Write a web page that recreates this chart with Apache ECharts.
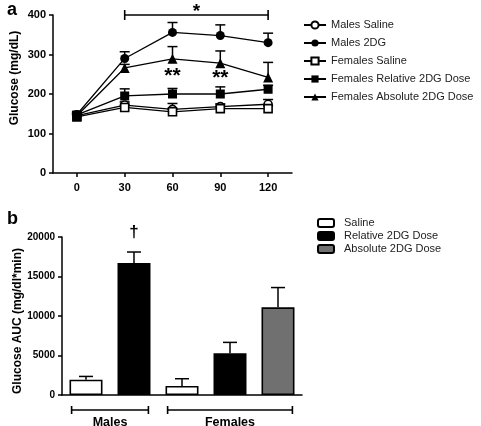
<!DOCTYPE html>
<html>
<head>
<meta charset="utf-8">
<script src="https://cdn.jsdelivr.net/npm/echarts@6/dist/echarts.min.js"></script>
<style>html,body{margin:0;padding:0;background:#fff;}#c{width:481px;height:426px;}</style>
</head>
<body>
<div id="c"></div>
<script>
// ---- Panel a: glucose time course ----
const times = ['0', '30', '60', '90', '120'];
const glucoseTicks = [0, 100, 200, 300, 400];
const malesSaline = [145, 172, 161, 168, 174];
const malesSalineErr = [150, 180, 176, 175, 186];
const males2DG = [148, 290, 356, 348, 330];
const males2DGErr = [155, 307, 381, 375, 354];
const femalesSaline = [142, 166, 155, 163, 163];
const femalesSalineErr = [147, 172, 162, 168, 170];
const femalesRelative = [147, 195, 200, 200, 212];
const femalesRelativeErr = [152, 213, 214, 218, 222];
const femalesAbsolute = [145, 266, 289, 278, 242];
const femalesAbsoluteErr = [150, 275, 320, 309, 280];
const bracketSpan = [1, 4, 400];      // from t=30 to t=120 at 400 mg/dL
const bracketLabel = '*';
const doubleStarPoints = [[2, 256], [3, 250]];
const doubleStarLabel = '**';

// ---- Panel b: AUC ----
const aucSlots = ['Males Saline', 'Males Relative', 'Females Saline', 'Females Relative', 'Females Absolute'];
const aucTicks = [0, 5000, 10000, 15000, 20000];
const salineAUC = [1940, '-', 1150, '-', '-'];
const relativeAUC = ['-', 16700, '-', 5300, '-'];
const absoluteAUC = ['-', '-', '-', '-', 11100];
const aucMean = [1940, 16700, 1150, 5300, 11100];
const aucErr = [2350, 18100, 2060, 6660, 13600];
const aucNotes = ['', '\u2020', '', '', ''];
const groupLabels = ['Males', 'Females'];
const groupSpans = [[0, 1], [2, 4]];

const FONT = '"Liberation Sans", Arial, sans-serif';
const chart = echarts.init(document.getElementById('c'), null, {renderer: 'canvas'});

function errSeries(name, mean, hi, xIdx, yIdx, capHalf, notes) {
  return {
    type: 'custom', name: name, xAxisIndex: xIdx, yAxisIndex: yIdx, z: 1, silent: true,
    clip: false,
    data: mean.map((m, i) => [i, m, hi[i]]),
    renderItem: function (params, api) {
      const x = api.value(0);
      const p1 = api.coord([x, api.value(1)]);
      const p2 = api.coord([x, api.value(2)]);
      const st = {stroke: '#000', lineWidth: 1.5};
      const children = [
        {type: 'line', shape: {x1: p1[0], y1: p1[1], x2: p2[0], y2: p2[1]}, style: st},
        {type: 'line', shape: {x1: p2[0] - capHalf, y1: p2[1], x2: p2[0] + capHalf, y2: p2[1]}, style: st}
      ];
      if (notes && notes[params.dataIndex]) {
        children.push({type: 'text', x: p2[0], y: p2[1] - 11,
          style: {text: notes[params.dataIndex], fill: '#000', font: 'bold 17px ' + FONT,
            align: 'center', verticalAlign: 'bottom'}});
      }
      return {type: 'group', children: children};
    }
  };
}

function lineSeries(name, data, symbol, size, filled) {
  return {
    type: 'line', name: name, data: data, xAxisIndex: 0, yAxisIndex: 0, z: 3,
    symbol: symbol, symbolSize: size, showAllSymbol: true,
    lineStyle: {color: '#000', width: 1.3},
    itemStyle: {color: filled ? '#000' : '#fff', borderColor: '#000', borderWidth: filled ? 0 : 1.6},
    emphasis: {disabled: true},
    animation: false
  };
}

const tickFont = {color: '#000', fontWeight: 'bold', fontSize: 11, fontFamily: FONT};
const axisLineStyle = {show: true, lineStyle: {color: '#000', width: 1.5}};

const option = {
  animation: false,
  backgroundColor: '#fff',
  title: [
    {text: 'a', left: 2, top: -4, textStyle: {fontSize: 18, fontWeight: 'bold', color: '#000', fontFamily: FONT}},
    {text: 'b', left: 2, top: 205, textStyle: {fontSize: 18, fontWeight: 'bold', color: '#000', fontFamily: FONT}}
  ],
  legend: [
    {
      data: ['Males Saline', 'Males 2DG', 'Females Saline', 'Females Relative 2DG Dose', 'Females Absolute 2DG Dose'],
      orient: 'vertical', left: 303, top: 18, padding: 0, itemWidth: 22, itemHeight: 9, itemGap: 4,
      textStyle: {fontSize: 11, lineHeight: 14, color: '#222', fontFamily: FONT},
      selectedMode: false
    },
    {
      data: ['Saline', 'Relative 2DG Dose', 'Absolute 2DG Dose'],
      orient: 'vertical', left: 317, top: 217, padding: 0, itemWidth: 16, itemHeight: 8, itemGap: 1,
      textStyle: {fontSize: 11, lineHeight: 12, color: '#222', padding: [0, 0, 0, 5], fontFamily: FONT},
      selectedMode: false
    }
  ],
  grid: [
    {left: 53, top: 15, width: 239, height: 158},
    {left: 62, top: 237, width: 240, height: 158}
  ],
  xAxis: [
    {
      type: 'category', gridIndex: 0, data: times, boundaryGap: true,
      axisLine: axisLineStyle, axisTick: {show: true, alignWithLabel: true, length: 4, lineStyle: {color: '#000', width: 1.5}},
      axisLabel: Object.assign({margin: 9}, tickFont), splitLine: {show: false}
    },
    {
      type: 'category', gridIndex: 1, data: aucSlots, boundaryGap: true,
      axisLine: axisLineStyle, axisTick: {show: false}, axisLabel: {show: false}, splitLine: {show: false}
    }
  ],
  yAxis: [
    {
      type: 'value', gridIndex: 0, min: glucoseTicks[0], max: glucoseTicks[glucoseTicks.length - 1], interval: 100,
      axisLine: axisLineStyle, axisTick: {show: true, length: 4, lineStyle: {color: '#000', width: 1.5}},
      axisLabel: Object.assign({margin: 7}, tickFont), splitLine: {show: false},
      name: 'Glucose (mg/dL)', nameLocation: 'middle', nameGap: 32,
      nameTextStyle: {fontWeight: 'bold', fontSize: 12, color: '#000', fontFamily: FONT, padding: [0, 0, 0, 32]}
    },
    {
      type: 'value', gridIndex: 1, min: aucTicks[0], max: aucTicks[aucTicks.length - 1], interval: 5000,
      axisLine: axisLineStyle, axisTick: {show: true, length: 4, lineStyle: {color: '#000', width: 1.5}},
      axisLabel: Object.assign({margin: 7, formatter: v => String(v)}, tickFont, {fontSize: 10}), splitLine: {show: false},
      name: 'Glucose AUC (mg/dl*min)', nameLocation: 'middle', nameGap: 38,
      nameTextStyle: {fontWeight: 'bold', fontSize: 12, color: '#000', fontFamily: FONT, padding: [0, 10, 0, 0]}
    }
  ],
  series: [
    errSeries('e1', malesSaline, malesSalineErr, 0, 0, 5),
    errSeries('e2', males2DG, males2DGErr, 0, 0, 5),
    errSeries('e3', femalesSaline, femalesSalineErr, 0, 0, 5),
    errSeries('e4', femalesRelative, femalesRelativeErr, 0, 0, 5),
    errSeries('e5', femalesAbsolute, femalesAbsoluteErr, 0, 0, 5),
    lineSeries('Males Saline', malesSaline, 'circle', 8, false),
    lineSeries('Males 2DG', males2DG, 'circle', 9, true),
    lineSeries('Females Saline', femalesSaline, 'rect', 8, false),
    lineSeries('Females Relative 2DG Dose', femalesRelative, 'rect', 9, true),
    Object.assign(lineSeries('Females Absolute 2DG Dose', femalesAbsolute, 'triangle', 10, true), {
      markPoint: {
        symbolSize: 0,
        data: doubleStarPoints.map(p => ({coord: p, value: doubleStarLabel})),
        label: {show: true, position: 'inside', offset: [0, 4], formatter: doubleStarLabel, color: '#000',
          fontSize: 21, fontWeight: 'bold', fontFamily: FONT}
      }
    }),
    {
      type: 'custom', name: 'bracketA', xAxisIndex: 0, yAxisIndex: 0, silent: true, clip: false,
      data: [bracketSpan],
      renderItem: function (params, api) {
        const p1 = api.coord([api.value(0), api.value(2)]);
        const p2 = api.coord([api.value(1), api.value(2)]);
        const st = {stroke: '#000', lineWidth: 1.6};
        return {type: 'group', children: [
          {type: 'line', shape: {x1: p1[0], y1: p1[1], x2: p2[0], y2: p2[1]}, style: st},
          {type: 'line', shape: {x1: p1[0], y1: p1[1] - 5, x2: p1[0], y2: p1[1] + 5}, style: st},
          {type: 'line', shape: {x1: p2[0], y1: p2[1] - 5, x2: p2[0], y2: p2[1] + 5}, style: st},
          {type: 'text', x: (p1[0] + p2[0]) / 2, y: p1[1] + 6,
            style: {text: bracketLabel, fill: '#000', font: 'bold 19px ' + FONT,
              align: 'center', verticalAlign: 'bottom'}}
        ]};
      }
    },
    // Panel b bars
    {type: 'bar', name: 'Saline', xAxisIndex: 1, yAxisIndex: 1, data: salineAUC, barWidth: 33, barGap: '-100%',
      itemStyle: {color: '#fff', borderColor: '#000', borderWidth: 1.6}},
    {type: 'bar', name: 'Relative 2DG Dose', xAxisIndex: 1, yAxisIndex: 1, data: relativeAUC, barWidth: 33, barGap: '-100%',
      itemStyle: {color: '#000', borderColor: '#000', borderWidth: 1.6}},
    {type: 'bar', name: 'Absolute 2DG Dose', xAxisIndex: 1, yAxisIndex: 1, data: absoluteAUC, barWidth: 33, barGap: '-100%',
      itemStyle: {color: '#707070', borderColor: '#000', borderWidth: 1.6}},
    errSeries('eb', aucMean, aucErr, 1, 1, 7, aucNotes),
    {
      type: 'custom', name: 'groups', xAxisIndex: 1, yAxisIndex: 1, silent: true, clip: false,
      data: groupSpans.map((s, i) => [s[0], s[1], i]),
      renderItem: function (params, api) {
        const band = api.size([1, 0])[0];
        const a = api.coord([api.value(0), 0]);
        const b = api.coord([api.value(1), 0]);
        const x1 = a[0] - band * 0.3, x2 = b[0] + band * 0.3, y = a[1] + 15;
        const st = {stroke: '#000', lineWidth: 1.6};
        return {type: 'group', children: [
          {type: 'line', shape: {x1: x1, y1: y, x2: x2, y2: y}, style: st},
          {type: 'line', shape: {x1: x1, y1: y - 4, x2: x1, y2: y + 4}, style: st},
          {type: 'line', shape: {x1: x2, y1: y - 4, x2: x2, y2: y + 4}, style: st},
          {type: 'text', x: (x1 + x2) / 2, y: y + 6,
            style: {text: groupLabels[params.dataIndex], fill: '#000', font: 'bold 12.5px ' + FONT,
              align: 'center', verticalAlign: 'top'}}
        ]};
      }
    }
  ]
};
chart.setOption(option);
</script>
</body>
</html>
